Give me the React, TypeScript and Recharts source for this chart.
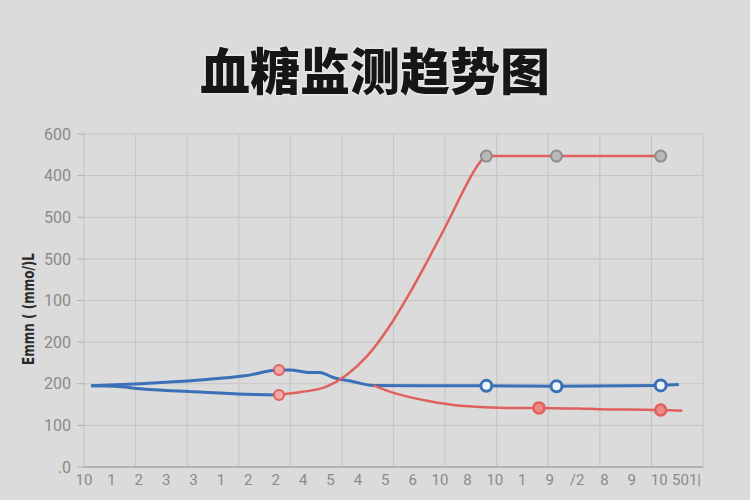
import { ComposedChart, Line, XAxis, YAxis, CartesianGrid } from "recharts";

const title = "血糖监测趋势图";
const yAxisTitle = "Emmn ( (mmo/)L";
const yTickLabels = [".0", "100", "200", "200", "100", "500", "500", "400", "600"];
const xTickLabels = [
  "10", "1", "2", "3", "3", "1", "2", "2", "4", "5", "4", "5",
  "6", "10", "8", "10", "1", "9", "/2", "8", "9", "10", "501|",
];
const gridSteps = [0, 1, 2, 3, 4, 5, 6, 7, 8, 9, 10, 11, 12];

// [position along x (grid units), value]
const blueUpper = [
  [0.14, 195], [1.09, 200], [2.25, 209], [3.12, 219], [3.78, 233], [3.99, 233],
  [4.38, 227], [4.57, 227], [4.83, 215], [5.22, 205], [5.61, 196], [6.5, 195],
  [7.8, 195], [9.16, 194], [11.18, 196], [11.53, 198],
];
const blueLower = [
  [0.14, 195], [0.6, 194], [1.09, 188], [2.25, 180], [3.12, 175], [3.78, 173],
];
const redRise = [
  [3.78, 173], [4.2, 180], [4.7, 193], [5.09, 221], [5.5, 268], [5.9, 334],
  [6.3, 415], [6.7, 505], [7.1, 600], [7.4, 675], [7.65, 728], [7.8, 747],
  [9.16, 747], [11.18, 747],
];
const redLow = [
  [5.61, 196], [6.0, 178], [6.65, 159], [7.3, 147], [8.2, 142], [8.82, 142],
  [10.0, 139], [11.18, 137], [11.6, 135],
];

const pinkMarkers = [[3.78, 233], [3.78, 173]];
const redMarkers = [[8.82, 142], [11.18, 137]];
const blueMarkers = [[7.8, 195], [9.16, 194], [11.18, 196]];
const greyMarkers = [[7.8, 747], [9.16, 747], [11.18, 747]];

const toRows = (pairs: number[][]) => pairs.map(([u, v]) => ({ u, v }));
const labelRows = xTickLabels.map((label, i) => ({ i, label }));

const BLUE = "#3b6fb8";
const RED = "#e0605e";

export default function App() {
  return (
    <div
      style={{
        position: "absolute",
        left: 0,
        top: 0,
        width: 750,
        height: 500,
        background: "#dbdbdb",
        fontFamily: "Roboto, 'Noto Sans', sans-serif",
      }}
    >
      <div
        style={{
          position: "absolute",
          left: 0,
          top: 37,
          width: 750,
          textAlign: "center",
          fontFamily: "'Noto Sans CJK SC', sans-serif",
          fontWeight: 900,
          fontSize: 50,
          lineHeight: "62px",
          color: "#161616",
          textShadow: "0 0 3px #ffffff",
        }}
      >
        {title}
      </div>
      <div
        style={{
          position: "absolute",
          left: 29,
          top: 309,
          transform: "translate(-50%, -50%) rotate(-90deg) scaleX(0.8)",
          whiteSpace: "nowrap",
          fontFamily: "'DejaVu Sans', sans-serif",
          fontWeight: 700,
          fontSize: 15,
          color: "#2a2a2a",
        }}
      >
        {yAxisTitle}
      </div>
      <ComposedChart
        width={750}
        height={500}
        margin={{ top: 134, right: 47, bottom: 3, left: 24 }}
      >
        <CartesianGrid xAxisId="grid" stroke="#c6c6c6" strokeWidth={1.2} />
        <XAxis
          xAxisId="grid"
          dataKey="u"
          type="number"
          domain={[0, 12]}
          ticks={gridSteps}
          tickFormatter={() => ""}
          allowDataOverflow
          height={0}
          axisLine={false}
          tickSize={5}
          tickLine={{ stroke: "#a9a9a9" }}
        />
        <XAxis
          xAxisId="labels"
          dataKey="i"
          type="number"
          domain={[0, 22.6]}
          ticks={xTickLabels.map((_, i) => i)}
          tickFormatter={(i: number) => xTickLabels[i] ?? ""}
          interval={0}
          allowDataOverflow
          height={30}
          tickLine={false}
          tickSize={4}
          tickMargin={3}
          axisLine={{ stroke: "#a9a9a9", strokeWidth: 1.5 }}
          tick={{ fill: "#8a8a8a", fontSize: 15 }}
        />
        <YAxis
          type="number"
          domain={[0, 800]}
          ticks={yTickLabels.map((_, i) => i * 100)}
          tickFormatter={(v: number) => yTickLabels[Math.round(v / 100)]}
          interval={0}
          width={60}
          axisLine={false}
          tickLine={{ stroke: "#b0b0b0" }}
          tickSize={7}
          tickMargin={6}
          tick={{ fill: "#8a8a8a", fontSize: 16 }}
        />
        {/* carries the tick-label categories so the label axis has a domain */}
        <Line
          xAxisId="labels"
          data={labelRows}
          dataKey="none"
          stroke="none"
          dot={false}
          activeDot={false}
          legendType="none"
          isAnimationActive={false}
        />
        <Line
          xAxisId="grid"
          data={toRows(blueLower)}
          dataKey="v"
          type="monotone"
          stroke={BLUE}
          strokeWidth={3}
          dot={false}
          activeDot={false}
          isAnimationActive={false}
        />
        <Line
          xAxisId="grid"
          data={toRows(blueUpper)}
          dataKey="v"
          type="monotone"
          stroke={BLUE}
          strokeWidth={3}
          dot={false}
          activeDot={false}
          isAnimationActive={false}
        />
        <Line
          xAxisId="grid"
          data={toRows(redLow)}
          dataKey="v"
          type="monotone"
          stroke={RED}
          strokeWidth={2.5}
          dot={false}
          activeDot={false}
          isAnimationActive={false}
        />
        <Line
          xAxisId="grid"
          data={toRows(redRise)}
          dataKey="v"
          type="monotone"
          stroke={RED}
          strokeWidth={2.5}
          dot={false}
          activeDot={false}
          isAnimationActive={false}
        />
        <Line
          xAxisId="grid"
          data={toRows(pinkMarkers)}
          dataKey="v"
          stroke="none"
          dot={{ r: 5, fill: "#f1a9aa", stroke: RED, strokeWidth: 2 }}
          activeDot={false}
          isAnimationActive={false}
        />
        <Line
          xAxisId="grid"
          data={toRows(redMarkers)}
          dataKey="v"
          stroke="none"
          dot={{ r: 5.5, fill: "#e98a88", stroke: RED, strokeWidth: 2.5 }}
          activeDot={false}
          isAnimationActive={false}
        />
        <Line
          xAxisId="grid"
          data={toRows(blueMarkers)}
          dataKey="v"
          stroke="none"
          dot={{ r: 5.5, fill: "#eef3f8", stroke: BLUE, strokeWidth: 3 }}
          activeDot={false}
          isAnimationActive={false}
        />
        <Line
          xAxisId="grid"
          data={toRows(greyMarkers)}
          dataKey="v"
          stroke="none"
          dot={{ r: 5.5, fill: "#b9b9b9", stroke: "#8e8e8e", strokeWidth: 2 }}
          activeDot={false}
          isAnimationActive={false}
        />
      </ComposedChart>
    </div>
  );
}
